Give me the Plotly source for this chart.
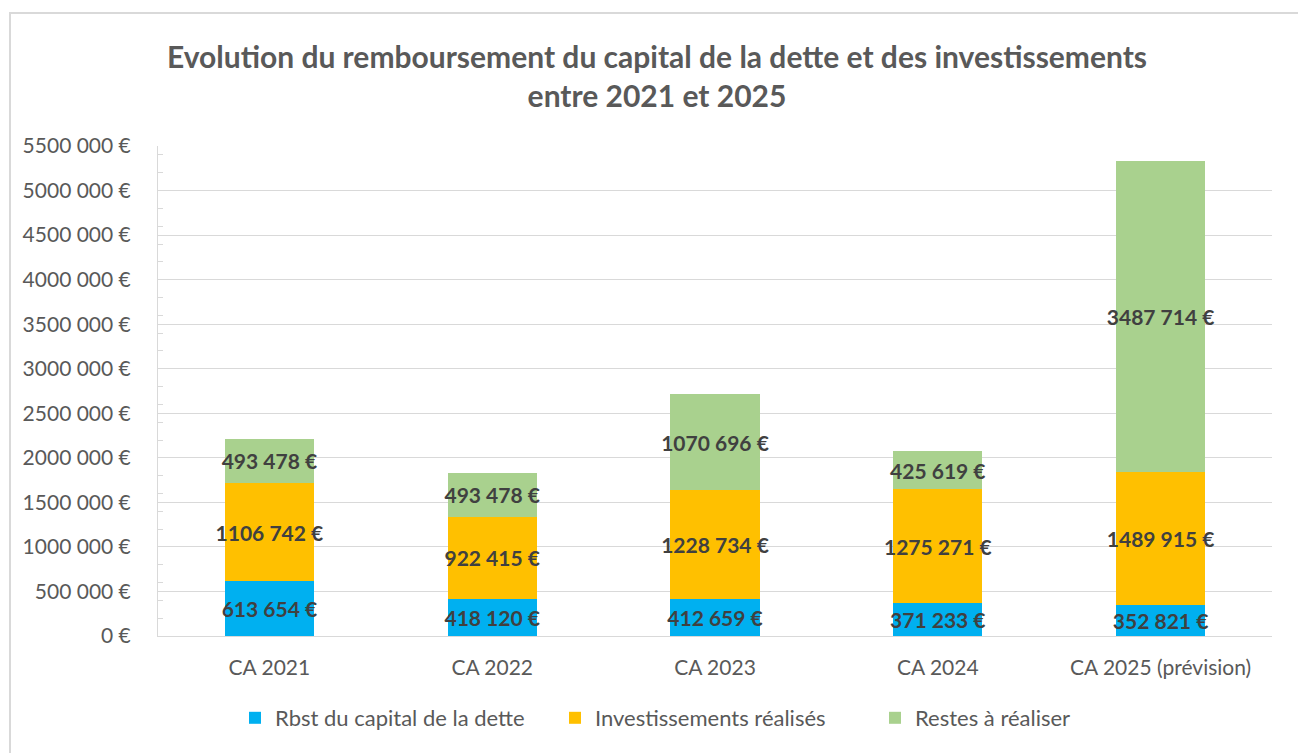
import plotly.graph_objects as go

CATEGORIES = ["CA 2021", "CA 2022", "CA 2023", "CA 2024", "CA 2025 (prévision)"]
RBST_CAPITAL = [613654, 418120, 412659, 371233, 352821]
INVEST_REALISES = [1106742, 922415, 1228734, 1275271, 1489915]
RESTES_A_REALISER = [493478, 493478, 1070696, 425619, 3487714]

SERIES_NAMES = ["Rbst du capital de la dette", "Investissements réalisés", "Restes à réaliser"]
SERIES_COLORS = ["#00B0F0", "#FFC000", "#A9D18E"]

Y_TICKS = [i * 500000 for i in range(12)]

TITLE = "<b>Evolution du remboursement du capital de la dette et des investissements<br>entre 2021 et 2025</b>"

FONT = "Lato"
TEXT_GRAY = "#595959"
LABEL_COLOR = "#404040"
LINE_GRAY = "#D9D9D9"

# the page body adds an 8px margin, so the figure is a bit smaller than the window
PAGE_OFFSET = 8
W, H = 1306 - PAGE_OFFSET, 753 - PAGE_OFFSET

# plot area in window pixels
PLOT_L, PLOT_R, PLOT_T, PLOT_B = 158, 1272, 146, 636


def euro(v):
    # Excel style: "1106 742 €", "5500 000 €"
    s = f"{v:,}".split(",")
    if len(s) > 2:
        s = ["".join(s[:-1]), s[-1]]
    return " ".join(s) + " €"


def px_to_paper_x(px):
    return (px - PLOT_L) / (PLOT_R - PLOT_L)


def px_to_paper_y(py):
    return (PLOT_B - py) / (PLOT_B - PLOT_T)


fig = go.Figure()

for name, color, values in zip(SERIES_NAMES, SERIES_COLORS,
                               [RBST_CAPITAL, INVEST_REALISES, RESTES_A_REALISER]):
    fig.add_trace(go.Bar(
        x=CATEGORIES,
        y=values,
        name=name,
        marker_color=color,
        marker_line_width=0,
        text=[euro(v) for v in values],
        textposition="inside",
        insidetextanchor="middle",
        textangle=0,
        textfont=dict(family=FONT, size=21, color=LABEL_COLOR, weight="bold"),
        constraintext="none",
        cliponaxis=False,
    ))

fig.update_layout(
    barmode="stack",
    bargap=0.6,
    width=W,
    height=H,
    paper_bgcolor="white",
    plot_bgcolor="white",
    margin=dict(l=PLOT_L - PAGE_OFFSET, r=W + PAGE_OFFSET - PLOT_R,
                t=PLOT_T - PAGE_OFFSET, b=H + PAGE_OFFSET - PLOT_B),
    font=dict(family=FONT, color=TEXT_GRAY),
    title=dict(
        text=TITLE,
        x=0.5,
        xanchor="center",
        y=1 - (68 - PAGE_OFFSET) / H,
        yanchor="middle",
        font=dict(family=FONT, size=30, color=TEXT_GRAY),
    ),
    showlegend=True,
    legend=dict(
        orientation="h",
        x=0.5,
        xanchor="center",
        y=px_to_paper_y(718),
        yanchor="middle",
        font=dict(family=FONT, size=22, color=TEXT_GRAY),
        entrywidth=275,
        itemwidth=30,
        traceorder="normal",
    ),
    uniformtext=dict(mode=False),
)

fig.update_yaxes(
    range=[0, 5500000],
    tickvals=Y_TICKS,
    ticktext=[euro(v) for v in Y_TICKS],
    tickfont=dict(family=FONT, size=21, color=TEXT_GRAY),
    showgrid=True,
    gridcolor=LINE_GRAY,
    gridwidth=1,
    showline=True,
    linecolor=LINE_GRAY,
    ticks="",
    ticklabelstandoff=22,
    minor=dict(dtick=200000, ticks="inside", ticklen=5, tickcolor=LINE_GRAY, showgrid=False),
    zeroline=False,
)

fig.update_xaxes(
    tickfont=dict(family=FONT, size=21, color=TEXT_GRAY),
    showline=True,
    linecolor=LINE_GRAY,
    ticks="",
    ticklabelstandoff=13,
)

# chart border
fig.add_shape(
    type="rect",
    xref="paper", yref="paper",
    x0=px_to_paper_x(10), x1=px_to_paper_x(1301),
    y0=px_to_paper_y(770), y1=px_to_paper_y(13),
    line=dict(color=LINE_GRAY, width=2),
    fillcolor="rgba(0,0,0,0)",
    layer="below",
)

fig.write_html("out.html")
